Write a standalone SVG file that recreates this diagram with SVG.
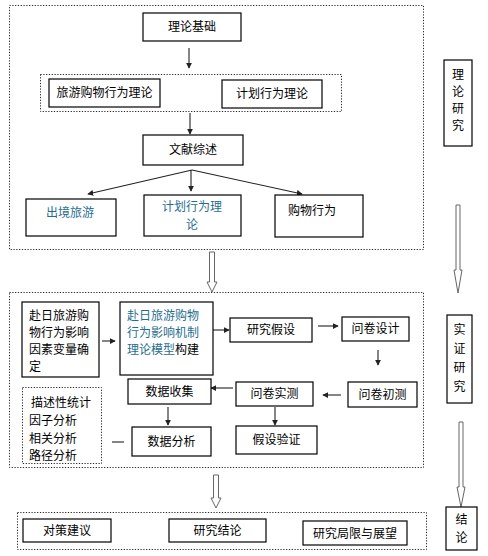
<svg xmlns="http://www.w3.org/2000/svg" width="488" height="556" viewBox="0 0 488 556">
<style>
.bg{fill:#ffffff}
.box{fill:#ffffff;stroke:#000000;stroke-width:1.2}
.dot{fill:none;stroke:#222222;stroke-width:1;stroke-dasharray:1.2 1.6}
.t{font-family:"Noto Sans CJK SC","Liberation Sans",sans-serif;font-size:12px;fill:#000000}
.m{text-anchor:middle}
.b{fill:#1f6e8e}
.ln{stroke:#222222;stroke-width:1.1;fill:none}
.hollow{fill:#ffffff;stroke:#666666;stroke-width:1}
</style>
<defs>
<marker id="ah" viewBox="0 0 8 8" refX="7" refY="4" markerWidth="6" markerHeight="6" orient="auto" markerUnits="userSpaceOnUse">
<path d="M0,0 L8,4 L0,8 Z" fill="#222222"/>
</marker>
</defs>
<rect class="bg" x="0" y="0" width="488" height="556"/>

<g id="frames">
<rect class="dot" x="9.5" y="5.5" width="414" height="244"/>
<rect class="dot" x="40.5" y="74.5" width="301" height="37"/>
<rect class="dot" x="9.5" y="292.5" width="414" height="175"/>
<rect class="dot" x="22.5" y="387.5" width="79" height="76"/>
<rect class="dot" x="17.5" y="512.5" width="409" height="37"/>
</g>

<g id="connectors">
<line class="ln" x1="189" y1="48" x2="189" y2="68" marker-end="url(#ah)"/>
<line class="ln" x1="190" y1="113" x2="190" y2="134" marker-end="url(#ah)"/>
<line class="ln" x1="192" y1="170" x2="88" y2="194" marker-end="url(#ah)"/>
<line class="ln" x1="191" y1="170" x2="191" y2="191" marker-end="url(#ah)"/>
<line class="ln" x1="192" y1="170" x2="302" y2="194" marker-end="url(#ah)"/>
<line class="ln" x1="102" y1="341" x2="115" y2="341" marker-end="url(#ah)"/>
<line class="ln" x1="210" y1="330" x2="229" y2="330" marker-end="url(#ah)"/>
<line class="ln" x1="318" y1="326" x2="338" y2="326" marker-end="url(#ah)"/>
<line class="ln" x1="378" y1="350" x2="378" y2="365" marker-end="url(#ah)"/>
<line class="ln" x1="341" y1="395" x2="323" y2="395" marker-end="url(#ah)"/>
<line class="ln" x1="233" y1="388" x2="211" y2="388" marker-end="url(#ah)"/>
<line class="ln" x1="168" y1="407" x2="168" y2="425" marker-end="url(#ah)"/>
<line class="ln" x1="275" y1="407" x2="275" y2="425" marker-end="url(#ah)"/>
<line class="ln" x1="112" y1="442" x2="124" y2="442"/>
<path class="hollow" d="M209.5,252 L214.5,252 L214.5,282 L217,282 L212,292 L207,282 L209.5,282 Z"/>
<path class="hollow" d="M213.5,475 L218.5,475 L218.5,498 L221,498 L216,508 L211,498 L213.5,498 Z"/>
<path class="hollow" d="M456,205 L460,205 L460,270 L462,270 L458,293 L454,270 L456,270 Z"/>
<path class="hollow" d="M459,422 L463,422 L463,487 L465,487 L461,507 L457,487 L459,487 Z"/>
</g>

<g id="n-lljc"><rect class="box" x="143" y="13" width="98" height="28"/><text class="t m" x="192" y="31">理论基础</text></g>
<g id="n-lygw"><rect class="box" x="49" y="79" width="111" height="28"/><text class="t m" x="104.5" y="97">旅游购物行为理论</text></g>
<g id="n-jhxw1"><rect class="box" x="222" y="80" width="100" height="28"/><text class="t m" x="272" y="98">计划行为理论</text></g>
<g id="n-wxzs"><rect class="box" x="143" y="135" width="100" height="30"/><text class="t m" x="193" y="154">文献综述</text></g>
<g id="n-cjly"><rect class="box" x="26" y="199" width="90" height="37"/><text class="t m b" x="70" y="217">出境旅游</text></g>
<g id="n-jhxw2"><rect class="box" x="144" y="195" width="97" height="41"/><text class="t m b" x="192" y="211">计划行为理</text><text class="t m b" x="192" y="229">论</text></g>
<g id="n-gwxw"><rect class="box" x="275" y="195" width="88" height="42"/><text class="t m" x="312" y="215">购物行为</text></g>

<g id="n-llyj"><rect class="box" x="444" y="60" width="28" height="86"/>
<text class="t m" x="458" y="79">理</text><text class="t m" x="458" y="96">论</text><text class="t m" x="458" y="113">研</text><text class="t m" x="458" y="130">究</text></g>
<g id="n-szyj"><rect class="box" x="447" y="315" width="25" height="88"/>
<text class="t m" x="459.5" y="334">实</text><text class="t m" x="459.5" y="353">证</text><text class="t m" x="459.5" y="372">研</text><text class="t m" x="459.5" y="391">究</text></g>
<g id="n-jl"><rect class="box" x="446" y="507" width="31" height="43"/>
<text class="t m" x="461.5" y="524">结</text><text class="t m" x="461.5" y="542">论</text></g>

<g id="n-yxys"><rect class="box" x="22" y="302" width="77" height="75"/>
<text class="t" x="29" y="320">赴日旅游购</text><text class="t" x="29" y="337">物行为影响</text><text class="t" x="29" y="354">因素变量确</text><text class="t" x="29" y="371">定</text></g>
<g id="n-mx"><rect class="box" x="120" y="302" width="93" height="73"/>
<text class="t b" x="127" y="320">赴日旅游购物</text><text class="t b" x="127" y="337">行为影响机制</text><text class="t" x="127" y="354"><tspan class="b">理论模型</tspan>构建</text></g>
<g id="n-yjjs"><rect class="box" x="230" y="318" width="82" height="24"/><text class="t m" x="271" y="334">研究假设</text></g>
<g id="n-wjsj"><rect class="box" x="342" y="317" width="67" height="24"/><text class="t m" x="375.5" y="333">问卷设计</text></g>
<g id="n-wjcc"><rect class="box" x="348" y="382" width="69" height="25"/><text class="t m" x="382.5" y="399">问卷初测</text></g>
<g id="n-wjsc"><rect class="box" x="236" y="382" width="77" height="24"/><text class="t m" x="274.5" y="398">问卷实测</text></g>
<g id="n-sjsj"><rect class="box" x="128" y="379" width="83" height="25"/><text class="t m" x="169.5" y="396">数据收集</text></g>
<g id="n-sjfx"><rect class="box" x="132" y="427" width="79" height="29"/><text class="t m" x="171.5" y="446">数据分析</text></g>
<g id="n-jsyz"><rect class="box" x="236" y="426" width="81" height="28"/><text class="t m" x="276.5" y="444">假设验证</text></g>
<g id="n-ff"><text class="t" x="31" y="407">描述性统计</text><text class="t" x="29" y="425">因子分析</text><text class="t" x="29" y="443">相关分析</text><text class="t" x="29" y="460">路径分析</text></g>

<g id="n-dcjy"><rect class="box" x="23" y="519" width="88" height="23"/><text class="t m" x="67" y="535">对策建议</text></g>
<g id="n-yjjl"><rect class="box" x="169" y="519" width="97" height="23"/><text class="t m" x="217.5" y="535">研究结论</text></g>
<g id="n-yjjx"><rect class="box" x="303" y="521" width="104" height="24"/><text class="t m" x="355" y="538">研究局限与展望</text></g>
</svg>
